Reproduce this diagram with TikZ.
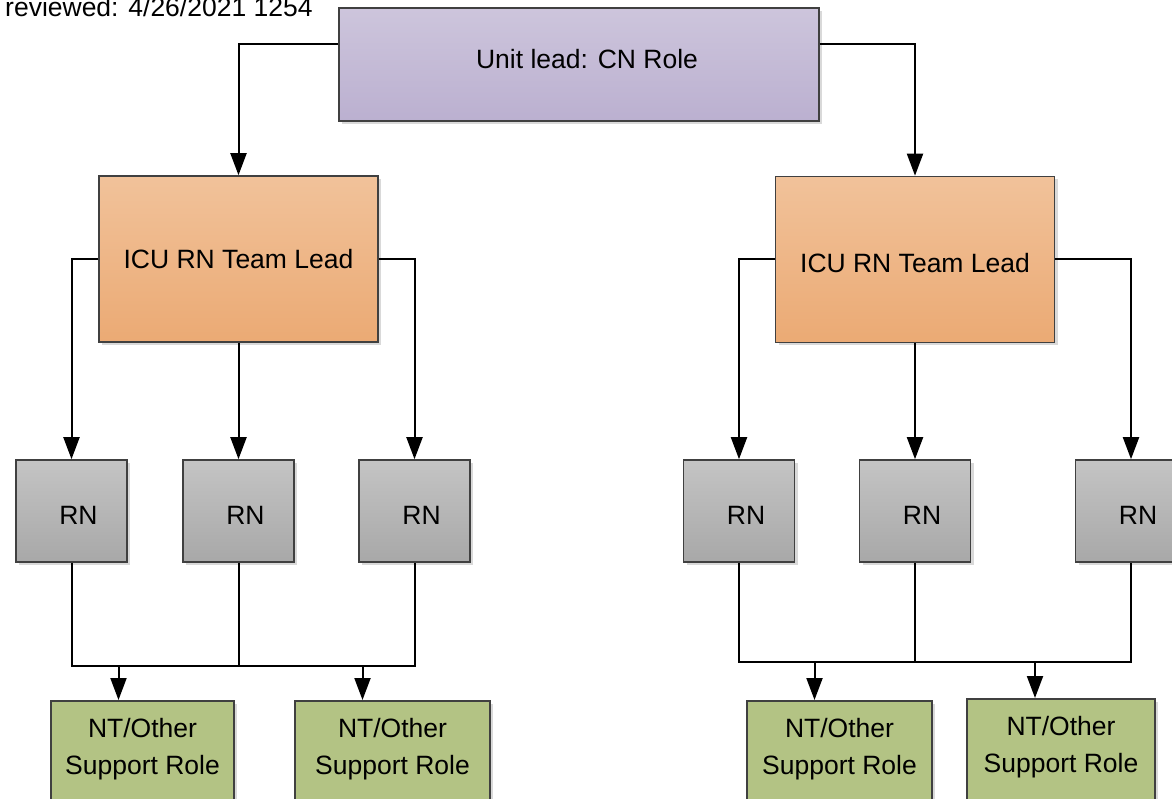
\documentclass[tikz,border=0pt]{standalone}
\usepackage{fontspec}
\setmainfont{Liberation Sans}
\usetikzlibrary{arrows.meta,shadows}

\definecolor{cnTop}{HTML}{CDC5DC}
\definecolor{cnBot}{HTML}{BBB0D0}
\definecolor{leadTop}{HTML}{F1C29A}
\definecolor{leadBot}{HTML}{EBAA74}
\definecolor{rnTop}{HTML}{C4C4C4}
\definecolor{rnBot}{HTML}{A8A8A8}
\definecolor{supFill}{HTML}{B3C384}
\definecolor{edge}{HTML}{404040}

\tikzset{
    box/.style={draw=edge, line width=1.6pt, inner sep=0pt, font=\fontsize{26.5}{37}\selectfont,
        drop shadow={shadow xshift=3pt, shadow yshift=-3pt, opacity=0.15, fill=black}},
    cnbox/.style={box, top color=cnTop, bottom color=cnBot, minimum width=480pt, minimum height=113pt},
    leadbox/.style={box, top color=leadTop, bottom color=leadBot, minimum width=279pt, minimum height=166pt},
    rnbox/.style={box, top color=rnTop, bottom color=rnBot, minimum width=111pt, minimum height=102pt},
    supbox/.style={box, fill=supFill, anchor=north, align=center, inner ysep=17pt, text depth=80pt},
    wire/.style={line width=2pt},
    link/.style={wire, -{Triangle[length=22pt,width=16pt]}},
}

\begin{document}
\begin{tikzpicture}[x=1pt, y=-1pt]
        \useasboundingbox (0,0) rectangle (1172,799);
        \clip (0,0) rectangle (1172,799);

        \node[anchor=base west, inner sep=0pt, font=\fontsize{26.5}{30}\selectfont] (stamp) at (5,17) {reviewed: 4/26/2021 1254};

        \node[cnbox] (cn) at (579,64.5) {\hspace*{16pt}Unit lead: CN Role\rule[-12pt]{0pt}{0pt}};
        \node[leadbox] (leadL) at (238.5,259) {ICU RN Team Lead};
        \node[leadbox] (leadR) at (915,259.5) {ICU RN Team Lead\rule{0pt}{27pt}};

        \foreach \n/\x in {rnA/71.5, rnB/238.5, rnC/414.5, rnD/739, rnE/915, rnF/1131} {
                \node[rnbox] (\n) at (\x,511) {\hspace*{14pt}RN\rule{0pt}{27pt}};
            }

        \node[supbox, minimum width=183pt] (supA) at (142.5,700) {NT/Other\\Support Role};
        \node[supbox, minimum width=195pt] (supB) at (392.5,700) {NT/Other\\Support Role};
        \node[supbox, minimum width=185pt] (supC) at (839.5,700) {NT/Other\\Support Role};
        \node[supbox, minimum width=188pt] (supD) at (1061,698) {NT/Other\\Support Role};

        \coordinate (busL) at (0,666);
        \coordinate (busR) at (0,662);

        \draw[link] ([yshift=20pt]cn.west) -| (leadL.north);
        \draw[link] ([yshift=20pt]cn.east) -| (leadR.north);

        \draw[link] (leadL.west) -| (rnA.north);
        \draw[link] (leadL.south) -- (rnB.north);
        \draw[link] (leadL.east) -| (rnC.north);
        \draw[link] (leadR.west) -| (rnD.north);
        \draw[link] (leadR.south) -- (rnE.north);
        \draw[link] (leadR.east) -| (rnF.north);

        \draw[wire] (rnA.south) -- (rnA.south |- busL) -- (rnC.south |- busL) -- (rnC.south);
        \draw[wire] (rnB.south) -- (rnB.south |- busL);
        \draw[wire] (rnD.south) -- (rnD.south |- busR) -- (rnF.south |- busR) -- (rnF.south);
        \draw[wire] (rnE.south) -- (rnE.south |- busR);

        \draw[link] ([xshift=-24pt]supA.north |- busL) -- ([xshift=-24pt]supA.north);
        \draw[link] ([xshift=-30pt]supB.north |- busL) -- ([xshift=-30pt]supB.north);
        \draw[link] ([xshift=-25pt]supC.north |- busR) -- ([xshift=-25pt]supC.north);
        \draw[link] ([xshift=-26pt]supD.north |- busR) -- ([xshift=-26pt]supD.north);
    \end{tikzpicture}
\end{document}
